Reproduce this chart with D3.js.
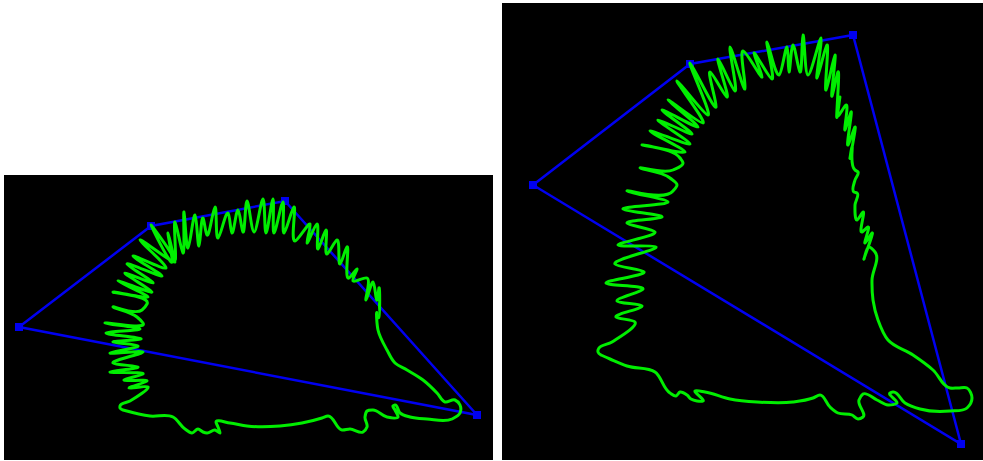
<!DOCTYPE html>
<html><head><meta charset="utf-8">
<script src="https://cdn.jsdelivr.net/npm/d3@7/dist/d3.min.js"></script>
<style>html,body{margin:0;padding:0;background:#fff}svg{display:block}</style>
</head><body><svg id="c" width="983" height="461"></svg>
<script>
const leftPanel = [[4,175],[493,460]];
const rightPanel = [[502,3],[983,460]];
const leftHull = [[19,327],[151,226],[285,201],[477,415]];
const rightHull = [[533,185],[690,64],[853,35],[961,444]];
const leftContour = [
[123,410],[150,416],[173,417],[185,429],[192,433],[198,429],[203,432],[207,433],[215,430],[220,433],[218,427],[216,422],[230,423],[247,426],[280,426],[302,423],[322,418],[328,416],[342,430],[350,429],[363,432],[367,427],[365,417],[367,411],[373,410],[387,417],[398,417],[395,410],[393,406],[395,405],[400,413],[410,417],[427,419],[452,419],[460,413],[460,405],[455,400],[445,402],[437,393],[423,380],[407,370],[395,363],[387,350],[378,330],[377,313],[378,317],[379,288],[377,300],[373,282],[366,300],[367,278],[353,281],[357,269],[349,278],[347,247],[340,264],[337,240],[327,254],[326,230],[318,249],[317,224],[307,243],[310,224],[295,241],[294,207],[284,233],[283,202],[274,233],[273,199],[266,233],[263,199],[254,232],[247,201],[243,232],[238,210],[232,233],[228,213],[218,238],[215,207],[207,235],[203,218],[199,246],[195,215],[188,248],[184,212],[183,253],[175,222],[175,260],[168,233],[172,262],[151,225],[175,262],[140,240],[166,268],[133,256],[162,276],[127,264],[153,283],[125,273],[152,292],[118,281],[148,297],[113,292],[147,304],[142,310],[113,307],[137,317],[143,323],[105,323],[140,329],[106,333],[141,339],[113,342],[138,346],[110,353],[143,352],[113,363],[138,367],[110,372],[143,374],[124,380],[147,381],[129,388],[148,387],[130,401],[120,406],[120,408],[123,410]
];
const rightContour = [
[601,355],[610,359],[627,366],[655,372],[670,393],[676,396],[680,392],[687,395],[691,399],[697,401],[703,401],[695,391],[705,392],[730,399],[757,402],[793,402],[813,398],[820,395],[830,407],[838,413],[852,415],[858,419],[863,417],[859,400],[863,394],[877,400],[888,405],[897,403],[890,393],[893,392],[905,403],[920,409],[950,411],[967,408],[972,398],[967,388],[958,388],[950,388],[933,370],[913,355],[888,340],[878,320],[873,300],[872,280],[875,252],[869,247],[864,259],[872,233],[865,243],[868,227],[862,232],[863,212],[857,220],[855,205],[857,193],[854,192],[855,180],[858,172],[855,170],[852,147],[850,158],[855,127],[848,145],[851,112],[845,130],[846,105],[838,116],[840,97],[837,117],[838,72],[832,96],[835,55],[826,90],[827,45],[817,78],[821,38],[808,75],[803,35],[800,72],[793,45],[789,72],[787,47],[779,75],[767,42],[772,79],[754,53],[762,77],[743,51],[745,89],[730,47],[735,91],[718,59],[727,97],[710,72],[716,107],[690,63],[708,115],[677,81],[703,123],[668,100],[698,127],[662,110],[692,134],[658,120],[690,144],[650,131],[685,152],[642,145],[680,158],[683,163],[673,170],[640,168],[670,178],[677,185],[673,191],[627,191],[668,202],[623,209],[662,217],[627,223],[655,232],[618,245],[656,247],[615,264],[644,272],[606,283],[643,289],[617,301],[642,306],[616,317],[635,322],[612,342],[598,350],[598,352],[601,355]
];
const hullColor = "#0000f0", contourColor = "#00ee00";
const svg = d3.select("#c");
function panel(bounds, hull, contour){
  const x = d3.scaleLinear().domain([bounds[0][0],bounds[1][0]]).range([bounds[0][0],bounds[1][0]]);
  const y = d3.scaleLinear().domain([bounds[0][1],bounds[1][1]]).range([bounds[0][1],bounds[1][1]]);
  const g = svg.append("g");
  g.append("rect").attr("x",x(bounds[0][0])).attr("y",y(bounds[0][1]))
   .attr("width",x(bounds[1][0])-x(bounds[0][0])).attr("height",y(bounds[1][1])-y(bounds[0][1])).attr("fill","#000");
  const path = d3.line().x(d=>x(d[0])).y(d=>y(d[1]));
  g.append("path").attr("d",path.curve(d3.curveLinearClosed)(hull)).attr("fill","none").attr("stroke",hullColor).attr("stroke-width",2.5);
  g.selectAll("rect.m").data(hull).join("rect").attr("class","m")
    .attr("x",d=>x(d[0])-4).attr("y",d=>y(d[1])-4).attr("width",8).attr("height",8).attr("fill",hullColor);
  g.append("path").attr("d",path.curve(d3.curveCatmullRom.alpha(1))(contour)).attr("fill","none")
   .attr("stroke",contourColor).attr("stroke-width",3).attr("stroke-linejoin","round").attr("stroke-linecap","round");
}
panel(leftPanel,leftHull,leftContour);
panel(rightPanel,rightHull,rightContour);
</script></body></html>
